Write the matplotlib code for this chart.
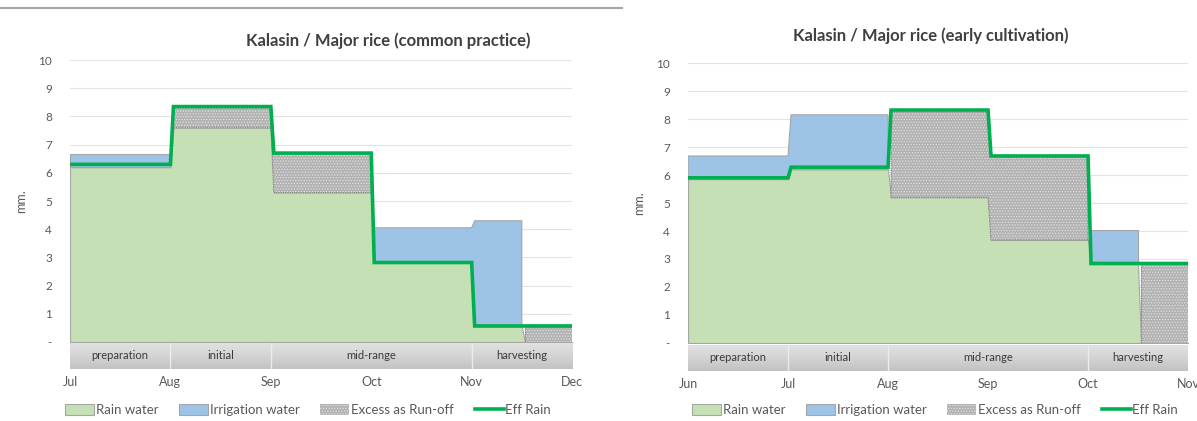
import matplotlib
matplotlib.use("Agg")
import matplotlib.pyplot as plt
import numpy as np
from matplotlib.colors import LinearSegmentedColormap
from matplotlib.lines import Line2D
from matplotlib.patches import Patch

plt.rcParams["font.family"] = ["Lato", "DejaVu Sans"]
plt.rcParams["hatch.linewidth"] = 0.6

# Common practice: Jul - Dec, segment edges in months from Jul 1
common_months = ["Jul", "Aug", "Sep", "Oct", "Nov", "Dec"]
common_edges = [0, 1, 2, 3, 4, 4.5, 5]
common_rain = [6.2, 7.6, 5.3, 2.82, 0.55, 0.0]
common_irrigation = [0.47, 0.0, 0.0, 1.23, 3.75, 0.0]
common_excess = [0.0, 0.7, 1.4, 0.0, 0.0, 0.55]
common_eff_rain = [6.3, 8.35, 6.7, 2.82, 0.57, 0.57]
common_phases = ["preparation", "initial", "mid-range", "harvesting"]
common_phase_edges = [0, 1, 2, 4, 5]

# Early cultivation: Jun - Nov
early_months = ["Jun", "Jul", "Aug", "Sep", "Oct", "Nov"]
early_edges = [0, 1, 2, 3, 4, 4.5, 5]
early_rain = [5.85, 6.2, 5.2, 3.68, 2.82, 0.0]
early_irrigation = [0.83, 1.95, 0.0, 0.0, 1.23, 0.0]
early_excess = [0.0, 0.0, 3.05, 3.0, 0.0, 2.82]
early_eff_rain = [5.9, 6.28, 8.32, 6.68, 2.84, 2.84]
early_phases = ["preparation", "initial", "mid-range", "harvesting"]
early_phase_edges = [0, 1, 2, 4, 5]

GREEN = "#c5e0b4"
BLUE = "#9dc3e6"
GRAY = "#b2b2b2"
DOTS = "#e0e0e0"
LINE = "#00b050"
TXT = "#595959"

band_cmap = LinearSegmentedColormap.from_list("band", ["#e2e2e2", "#d4d4d4", "#c2c2c2"])


def steps(edges, values, gap=0.03):
    """Excel-style step series: each value held across its segment"""
    xs, ys = [], []
    for i, v in enumerate(values):
        xs += [edges[i] + (gap if i > 0 else 0), edges[i + 1]]
        ys += [v, v]
    return np.array(xs), np.array(ys)


def draw_panel(ax, band, edges, rain, irr, excess, eff, months, phases, phase_edges):
    x, r = steps(edges, rain)
    _, i = steps(edges, irr)
    _, e = steps(edges, excess)
    _, eff_y = steps(edges, eff)

    ax.fill_between(x, 0, r, facecolor=GREEN, edgecolor="#a6a6a6", lw=0.8, zorder=2)
    has_irr = (i > 0) | np.r_[False, i[1:] > 0] | np.r_[i[:-1] > 0, False]
    ax.fill_between(x, r, r + i, where=has_irr, facecolor=BLUE, edgecolor="#a6a6a6",
                    lw=0.8, zorder=2)
    has_exc = (e > 0) | np.r_[False, e[1:] > 0] | np.r_[e[:-1] > 0, False]
    ax.fill_between(x, r + i, r + i + e, where=has_exc, facecolor=GRAY, edgecolor=DOTS,
                    hatch="......", lw=0, zorder=2)
    ax.fill_between(x, r + i, r + i + e, where=has_exc, facecolor="none",
                    edgecolor="#7f7f7f", lw=0.8, ls=(0, (1, 1)), zorder=3)
    ax.plot(x, eff_y, color=LINE, lw=2.6, zorder=4, solid_joinstyle="miter")

    ax.set_xlim(0, 5)
    ax.set_ylim(0, 10)
    ax.set_yticks(range(0, 11))
    ax.set_yticklabels(["-"] + [str(v) for v in range(1, 11)])
    ax.tick_params(axis="y", length=0, labelsize=8.5, labelcolor=TXT, pad=13)
    ax.set_xticks([])
    ax.grid(axis="y", color="#e3e3e3", lw=0.8, zorder=0)
    for s in ax.spines.values():
        s.set_visible(False)
    ax.set_ylabel("mm.", color=TXT, fontsize=9, labelpad=8)

    # phase band below the plot area
    grad = np.linspace(0, 1, 50).reshape(-1, 1)
    band.imshow(grad, extent=(0, 5, 0, 1), aspect="auto", cmap=band_cmap,
                origin="upper", zorder=0)
    for pe in phase_edges[1:-1]:
        band.axvline(pe, color="#ececec", lw=1.0)
    for k, name in enumerate(phases):
        band.text((phase_edges[k] + phase_edges[k + 1]) / 2, 0.5, name,
                  ha="center", va="center", fontsize=8, color="#3a3a3a")
    band.set_xlim(0, 5)
    band.set_ylim(0, 1)
    band.set_yticks([])
    band.set_xticks(range(len(months)))
    band.set_xticklabels(months)
    band.tick_params(axis="x", length=0, labelsize=9, labelcolor=TXT, pad=5)
    for s in band.spines.values():
        s.set_visible(False)


fig = plt.figure(figsize=(11.97, 4.21), dpi=100)

ax_l = fig.add_axes([0.0585, 0.1876, 0.4194, 0.6698])
band_l = fig.add_axes([0.0585, 0.1235, 0.4194, 0.0618])
ax_r = fig.add_axes([0.5748, 0.1853, 0.4177, 0.665])
band_r = fig.add_axes([0.5748, 0.1188, 0.4177, 0.0618])

draw_panel(ax_l, band_l, common_edges, common_rain, common_irrigation, common_excess,
           common_eff_rain, common_months, common_phases, common_phase_edges)
draw_panel(ax_r, band_r, early_edges, early_rain, early_irrigation, early_excess,
           early_eff_rain, early_months, early_phases, early_phase_edges)

fig.text(388 / 1197, 1 - 41 / 421, "Kalasin / Major rice (common practice)",
         ha="center", va="center", fontsize=12, fontweight="bold", color="#404040")
fig.text(931 / 1197, 1 - 36 / 421, "Kalasin / Major rice (early cultivation)",
         ha="center", va="center", fontsize=12, fontweight="bold", color="#404040")

# thin rule across the top of the left panel
fig.add_artist(Line2D([0, 622 / 1197], [1 - 8 / 421, 1 - 8 / 421], color="#a6a6a6", lw=1.5))

handles = [
    Patch(facecolor=GREEN, edgecolor="#a6a6a6", lw=0.8),
    Patch(facecolor=BLUE, edgecolor="#a6a6a6", lw=0.8),
    Patch(facecolor=GRAY, edgecolor=DOTS, hatch="......", lw=0),
    Line2D([], [], color=LINE, lw=2.6),
]
labels = ["Rain water", "Irrigation water", "Excess as Run-off", "Eff Rain"]
for cx in (308 / 1197, 935 / 1197):
    fig.legend(handles, labels, loc="center", bbox_to_anchor=(cx, 1 - 410 / 421), ncol=4,
               frameon=False, fontsize=9.5, labelcolor=TXT, handlelength=2.2,
               handleheight=0.9, handletextpad=0.1, columnspacing=1.6)

fig.savefig("out.png", dpi=100)
